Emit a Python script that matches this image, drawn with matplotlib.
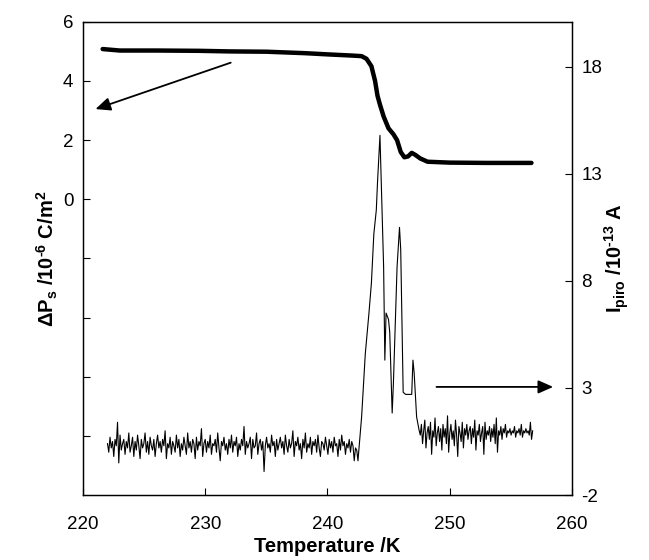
import numpy as np
import matplotlib
matplotlib.use("Agg")
import matplotlib.pyplot as plt

plt.rcParams['font.family'] = ['Liberation Sans', 'DejaVu Sans']
plt.rcParams['mathtext.fontset'] = 'custom'
plt.rcParams['mathtext.rm'] = 'Liberation Sans:bold'
plt.rcParams['mathtext.bf'] = 'Liberation Sans:bold'
plt.rcParams['mathtext.it'] = 'Liberation Sans:bold'
plt.rcParams['axes.unicode_minus'] = False

# Polarization change (left axis, thick line)
ps_temp = [221.6, 223, 226, 229.5, 232, 235, 238.2, 240, 242, 242.8, 243.2, 243.6,
           243.9, 244.1, 244.3, 244.6, 245.0, 245.4, 245.7, 246.0, 246.3, 246.6,
           246.9, 247.2, 247.6, 248.2, 250, 253, 256.7]
ps_val = [5.08, 5.03, 5.03, 5.02, 5.0, 4.99, 4.94, 4.9, 4.86, 4.84, 4.75, 4.5,
          4.0, 3.5, 3.2, 2.8, 2.4, 2.2, 2.0, 1.6, 1.42, 1.45, 1.57, 1.5,
          1.38, 1.27, 1.24, 1.23, 1.23]

# Pyroelectric current (right axis, thin line)
base_left = [0.4, 0.0, 0.7, 0.2, 0.5, -0.2, 0.6, 0.3, 1.4, -0.5, 0.8, 0.1, 0.4, 0.6, -0.1, 0.5, 0.2, 0.9, 0.0, 0.3,
             0.7, -0.2, 0.5, 0.1, 0.8, 0.3, -0.3, 0.6, 0.2, 0.4, 0.9, 0.0, 0.5, -0.1, 0.7, 0.3, 0.1, 0.6, -0.2, 0.4,
             0.8, 0.2, 0.5, 0.0, 0.6, 0.3, 1.0, -0.3, 0.4, 0.2, 0.7, -0.1, 0.5, 0.3, 0.0, 0.8, 0.2, 0.6, -0.2, 0.4,
             0.1, 0.7, 0.3, -0.1, 0.9, 0.2, 0.5, 0.0, 0.6, 0.4, -0.3, 0.7, 0.1, 0.5, 0.3, 1.1, -0.2, 0.4, 0.6, 0.0,
             0.5, 0.2, 0.8, -0.1, 0.4, 0.3, 0.6, 0.0, 0.9, 0.2, -0.4, 0.5, 0.3, 0.7, 0.1, 0.4, -0.1, 0.6, 0.2, 0.8,
             0.0, 0.5, 0.3, 0.7, -0.2, 0.4, 0.1, 0.6, 0.3, 1.2, -0.1, 0.5, 0.2, 0.4, 0.7, -0.3, 0.6, 0.2, 0.3, 0.9,
             -0.1, 0.4, 0.6, 0.1, 0.5, -0.9, 0.3, 0.7, 0.2, 0.4, 0.0, 0.8, 0.3, 0.5, -0.2, 0.6, 0.1, 0.4, 0.7, 0.2,
             0.5, -0.1, 0.8, 0.3, 0.0, 0.6, 0.2, 0.4, 1.0, -0.2, 0.5, 0.3, 0.7, 0.1, 0.4, -0.3, 0.6, 0.2, 0.9, 0.0,
             0.4, 0.2, 0.7, -0.1, 0.5, 0.3, 0.6, 0.0, 0.8, 0.2, -0.2, 0.5, 0.4, 0.1, 0.7, 0.3, -0.1, 0.6, 0.2, 0.5,
             0.0, 0.7, 0.3, 0.4, -0.2, 0.6, 0.1, 0.8, 0.3, 0.5, -0.1, 0.4, 0.2, 0.6, 0.0, 0.5, 0.3, -0.4, 0.2, 0.1]
peak_temp = [242.5, 242.8, 243.1, 243.4, 243.6, 243.8, 244.0, 244.1, 244.3, 244.4,
             244.6, 244.7, 244.8, 245.0, 245.1, 245.3, 245.4, 245.7, 245.9, 246.0,
             246.2, 246.4, 246.9, 247.0, 247.1, 247.3, 247.5]
peak_val = [-0.4, 1.66, 4.6, 6.5, 7.9, 10.2, 11.3, 12.6, 14.8, 12.7,
            8.65, 4.3, 6.5, 6.2, 5.6, 1.83, 3.2, 8.65, 10.5, 9.45,
            2.8, 2.7, 2.7, 4.3, 3.7, 1.65, 1.04]
base_right = [0.8, 1.3, 0.4, 1.0, 1.5, 0.2, 0.9, 1.2, 0.6, 1.4, -0.1, 1.0, 0.7, 1.6, 0.3, 0.9, 1.2, 0.5, 1.1, 0.1,
              1.3, 0.7, 1.1, 0.4, 1.7, 0.0, 0.9, 1.3, 0.6, 1.0, 0.3, 1.5, 0.8, -0.2, 1.2, 0.9, 0.5, 1.4, 0.2, 1.1,
              0.8, 1.3, 0.6, 1.0, 1.2, 0.4, 1.1, 0.7, 1.5, 0.1, 1.0, 0.8, 1.3, 0.5, 0.9, 1.2, -0.1, 1.4, 0.6, 1.0,
              0.8, 1.2, 0.5, 1.1, 0.7, 1.3, 0.4, 1.6, 0.0, 1.0, 0.8, 1.2, 0.6, 1.1, 0.9, 1.3, 0.7, 1.0, 0.9, 1.1,
              0.8, 1.0, 0.9, 1.2, 0.7, 1.0, 0.9, 1.1, 0.8, 1.3, 0.7, 1.0, 0.9, 1.1, 0.9, 1.0, 0.8, 1.4, 0.6, 1.0]

temp_left = np.linspace(222.0, 242.4, len(base_left))
temp_right = np.linspace(247.6, 256.8, len(base_right))
ip_temp = np.concatenate([temp_left, peak_temp, temp_right])
ip_val = np.concatenate([base_left, peak_val, base_right])

fig = plt.figure(figsize=(6.49, 5.6), dpi=100)
ax = fig.add_axes([0.128, 0.116, 0.753, 0.845])
ax2 = ax.twinx()

ax.plot(ps_temp, ps_val, color='black', lw=3.2, solid_capstyle='round', zorder=3)
ax2.plot(ip_temp, ip_val, color='black', lw=0.8)

ax.set_xlim(220, 260)
ax.set_ylim(-10, 6)
ax2.set_ylim(-2, 20.1)
ax.set_xticks([220, 230, 240, 250, 260])
ax.set_yticks([6, 4, 2, 0, -2, -4, -6, -8])
ax.set_yticklabels(['6', '4', '2', '0', '', '', '', ''])
ax2.set_yticks([-2, 3, 8, 13, 18])

for a in (ax, ax2):
    a.tick_params(direction='in', length=5, width=0.8, labelsize=13.5, pad=7)
    for s in a.spines.values():
        s.set_linewidth(0.9)
ax.tick_params(axis='x', pad=15)

ax.set_xlabel('Temperature /K', fontsize=14.5, fontweight='bold', labelpad=3)
ax.set_ylabel(r'$\Delta$P$_{\rm s}$ /10$^{\text{-6}}$ C/m$^{\rm 2}$', fontsize=14.5,
              fontweight='bold', labelpad=2)
ax2.set_ylabel(r'I$_{\rm piro}$ /10$^{\text{-13}}$ A', fontsize=14.5,
               fontweight='bold', labelpad=0)

# arrows pointing to the axes
ax.annotate('', xy=(220.8, 3.02), xytext=(232.3, 4.65),
            arrowprops=dict(arrowstyle='-|>,head_length=0.9,head_width=0.4',
                            color='black', lw=1.3))
ax2.annotate('', xy=(258.7, 3.05), xytext=(248.7, 3.05),
             arrowprops=dict(arrowstyle='-|>,head_length=0.9,head_width=0.4',
                             color='black', lw=1.3))

fig.savefig('out.png', dpi=100)
